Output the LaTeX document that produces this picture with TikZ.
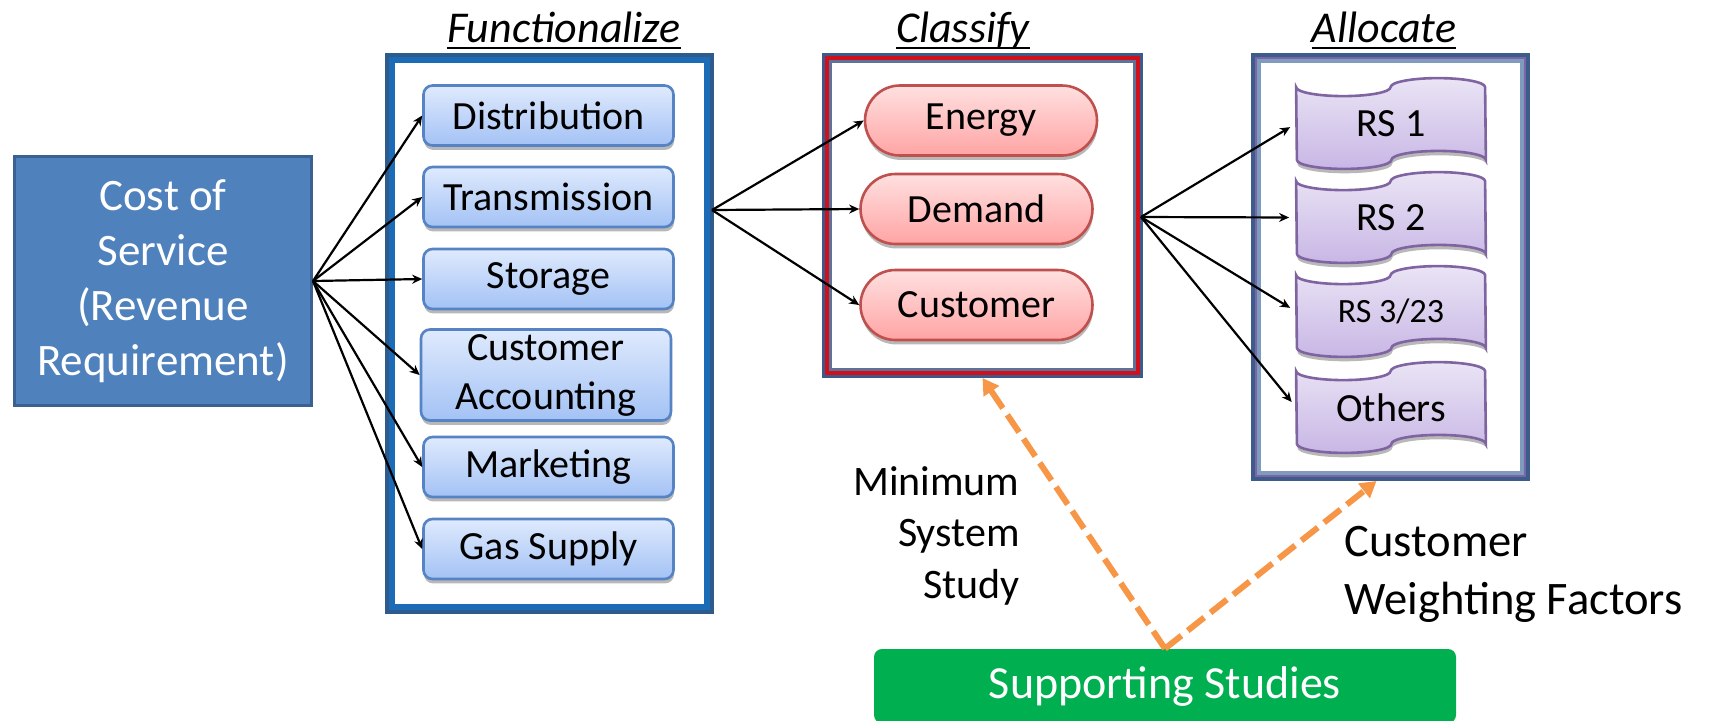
\documentclass[tikz,border=0pt]{standalone}
\usepackage{fontspec}
\setmainfont{Carlito}
\usetikzlibrary{arrows.meta,shadows,calc}
\pgfdeclarelayer{bg}
\pgfsetlayers{bg,main}

\definecolor{costfill}{HTML}{4F81BD}
\definecolor{costedge}{HTML}{3A6192}
\definecolor{fnavy}{HTML}{2E5A8C}
\definecolor{fblue}{HTML}{1B6BB7}
\definecolor{fedge}{HTML}{5583C3}
\definecolor{ftop}{HTML}{DFEAFD}
\definecolor{fbot}{HTML}{A3C2F5}
\definecolor{cnavy}{HTML}{3C5A8A}
\definecolor{cred}{HTML}{D0111B}
\definecolor{cgrey}{HTML}{5F7398}
\definecolor{pedge}{HTML}{C0504D}
\definecolor{ptop}{HTML}{FFE0E0}
\definecolor{pbot}{HTML}{FFA4A4}
\definecolor{anavy}{HTML}{3D5B8B}
\definecolor{apurple}{HTML}{7A66A6}
\definecolor{asteel}{HTML}{7F9BBE}
\definecolor{tedge}{HTML}{8064A2}
\definecolor{ttop}{HTML}{EAE4F5}
\definecolor{tbot}{HTML}{C8B7E5}
\definecolor{sgreen}{HTML}{00B050}
\definecolor{sorange}{HTML}{F79646}

% one coloured band of a frame: node, inset of the band's centre line, band width, colour
\newcommand\framering[4]{%
  \draw[#4,line width=#3] ([shift={(#2,-#2)}]#1.north west) rectangle ([shift={(-#2,#2)}]#1.south east);}

\begin{document}
\begin{tikzpicture}[x=0.5pt,y=-0.5pt,
  every node/.style={inner sep=0pt},
  frame/.style={outer sep=0pt},
  softshadow/.style={drop shadow={shadow xshift=0.3pt,shadow yshift=-2.2pt,opacity=0.28,fill=black}},
  costbox/.style={draw=costedge,fill=costfill,line width=1.5pt,minimum width=148.5pt,minimum height=124.5pt,
    text=white,align=center,font=\fontsize{22.5pt}{27.5pt}\selectfont},
  heading/.style={font=\fontsize{22pt}{26pt}\selectfont\itshape,anchor=base},
  uline/.style={line width=1.4pt},
  funcbox/.style={draw=fedge,line width=1.3pt,rounded corners=4.5pt,top color=ftop,bottom color=fbot,
    minimum width=125pt,minimum height=30pt,align=center,font=\fontsize{20pt}{24.5pt}\selectfont,softshadow},
  pill/.style={draw=pedge,line width=1.3pt,rounded corners=17.5pt,top color=ptop,bottom color=pbot,
    minimum width=116pt,minimum height=35pt,font=\fontsize{20pt}{24pt}\selectfont,softshadow},
  tapenode/.style={minimum width=94.5pt,minimum height=45pt,font=\fontsize{20pt}{24pt}\selectfont},
  tapeshape/.style={draw=tedge,line width=1.3pt,top color=ttop,bottom color=tbot,softshadow},
  arr/.style={line width=1.1pt,-{Stealth[length=5pt,width=4.5pt]}},
  oarr/.style={draw=sorange,line width=3pt,dash pattern=on 10.5pt off 4pt,-{Triangle[length=8pt,width=9pt]}},
]
\useasboundingbox (0,0) rectangle (1710,720);

% stage containers (outer extents), with their banded frames
\node[frame,minimum width=164.5pt,minimum height=280.5pt] (fgroup) at (549.5,333.5) {};
\framering{fgroup}{1pt}{2pt}{fnavy}
\framering{fgroup}{3.5pt}{3pt}{fblue}
\node[frame,minimum width=160.5pt,minimum height=162.5pt] (cgroup) at (982.5,215.5) {};
\framering{cgroup}{0.85pt}{1.7pt}{cnavy}
\framering{cgroup}{2.55pt}{1.7pt}{cred}
\framering{cgroup}{4.2pt}{1.6pt}{cgrey}
\node[frame,minimum width=139.5pt,minimum height=214pt] (agroup) at (1390.5,267) {};
\framering{agroup}{1pt}{2pt}{anavy}
\framering{agroup}{2.5pt}{1pt}{apurple}
\framering{agroup}{4pt}{2pt}{asteel}

% stage headings
\node[heading] (tfun) at (564,42) {Functionalize};
\node[heading] (tcla) at (963,42) {Classify};
\node[heading] (tall) at (1384,42) {Allocate};
\foreach \t in {tfun,tcla,tall}
  \draw[uline] ([yshift=-3pt]\t.base west) -- ([yshift=-3pt]\t.base east);

% revenue requirement
\node[costbox] (cost) at (163,281) {Cost of\\Service\\(Revenue\\Requirement)};

% functions
\node[funcbox] (dist) at (548.5,115.5) {Distribution};
\node[funcbox] (trans) at (548.5,197) {Transmission};
\node[funcbox] (stor) at (548.5,279) {Storage};
\node[funcbox,minimum height=45.5pt] (custacc) at (546,375) {Customer\\Accounting};
\node[funcbox] (mark) at (548.5,467) {Marketing};
\node[funcbox] (gas) at (548.5,549) {Gas Supply};

% classification
\node[pill] (energy) at (981,120.5) {Energy};
\node[pill] (demand) at (976.5,209) {Demand};
\node[pill] (custp) at (976.5,305) {Customer};

% rate schedules
\node[tapenode] (rs1) at (1391,123.5) {RS 1};
\node[tapenode] (rs2) at (1391,217.5) {RS 2};
\node[tapenode,font=\fontsize{17pt}{20pt}\selectfont] (rs3) at (1391,311.5) {RS 3/23};
\node[tapenode] (rs4) at (1391,407.5) {Others};

\begin{pgfonlayer}{bg}
\foreach \n in {rs1,rs2,rs3,rs4}{
  \path[tapeshape] ($(\n.north west)+(0pt,-4.5pt)$)
    arc[start angle=180,end angle=360,x radius=23.625pt,y radius=4.5pt]
    arc[start angle=180,end angle=0,x radius=23.625pt,y radius=4.5pt]
    -- ($(\n.south east)+(0pt,4.5pt)$)
    arc[start angle=0,end angle=180,x radius=23.625pt,y radius=4.5pt]
    arc[start angle=360,end angle=180,x radius=23.625pt,y radius=4.5pt]
    -- cycle;
}
\end{pgfonlayer}

% supporting studies
\node[fill=sgreen,rounded corners=4pt,minimum width=291pt,minimum height=37pt,text=white,
  font=\fontsize{23pt}{27pt}\selectfont] (sup) at (1165,686) {Supporting Studies};

\node[anchor=north east,align=right,font=\fontsize{21pt}{25.75pt}\selectfont] (minlab) at (1020,466)
  {Minimum\\System\\Study};
\node[anchor=north west,align=left,font=\fontsize{23.3pt}{29pt}\selectfont] (cwf) at (1344,526)
  {Customer\\Weighting Factors};

% connectors
\foreach \t in {dist,trans,stor,custacc,mark,gas}
  \draw[arr] (cost.east) -- (\t.west);
\coordinate (fsrc) at (712,210);
\foreach \t in {energy,demand,custp}
  \draw[arr] (fsrc) -- (\t.west);
\coordinate (csrc) at (1141,217);
\foreach \t in {rs1,rs2,rs3,rs4}
  \draw[arr,shorten >=3.5pt] (csrc) -- (\t.west);

\draw[oarr] (sup.north) -- (cgroup.south);
\draw[oarr] (sup.north) -- ([xshift=-7pt]agroup.south);
\end{tikzpicture}
\end{document}
